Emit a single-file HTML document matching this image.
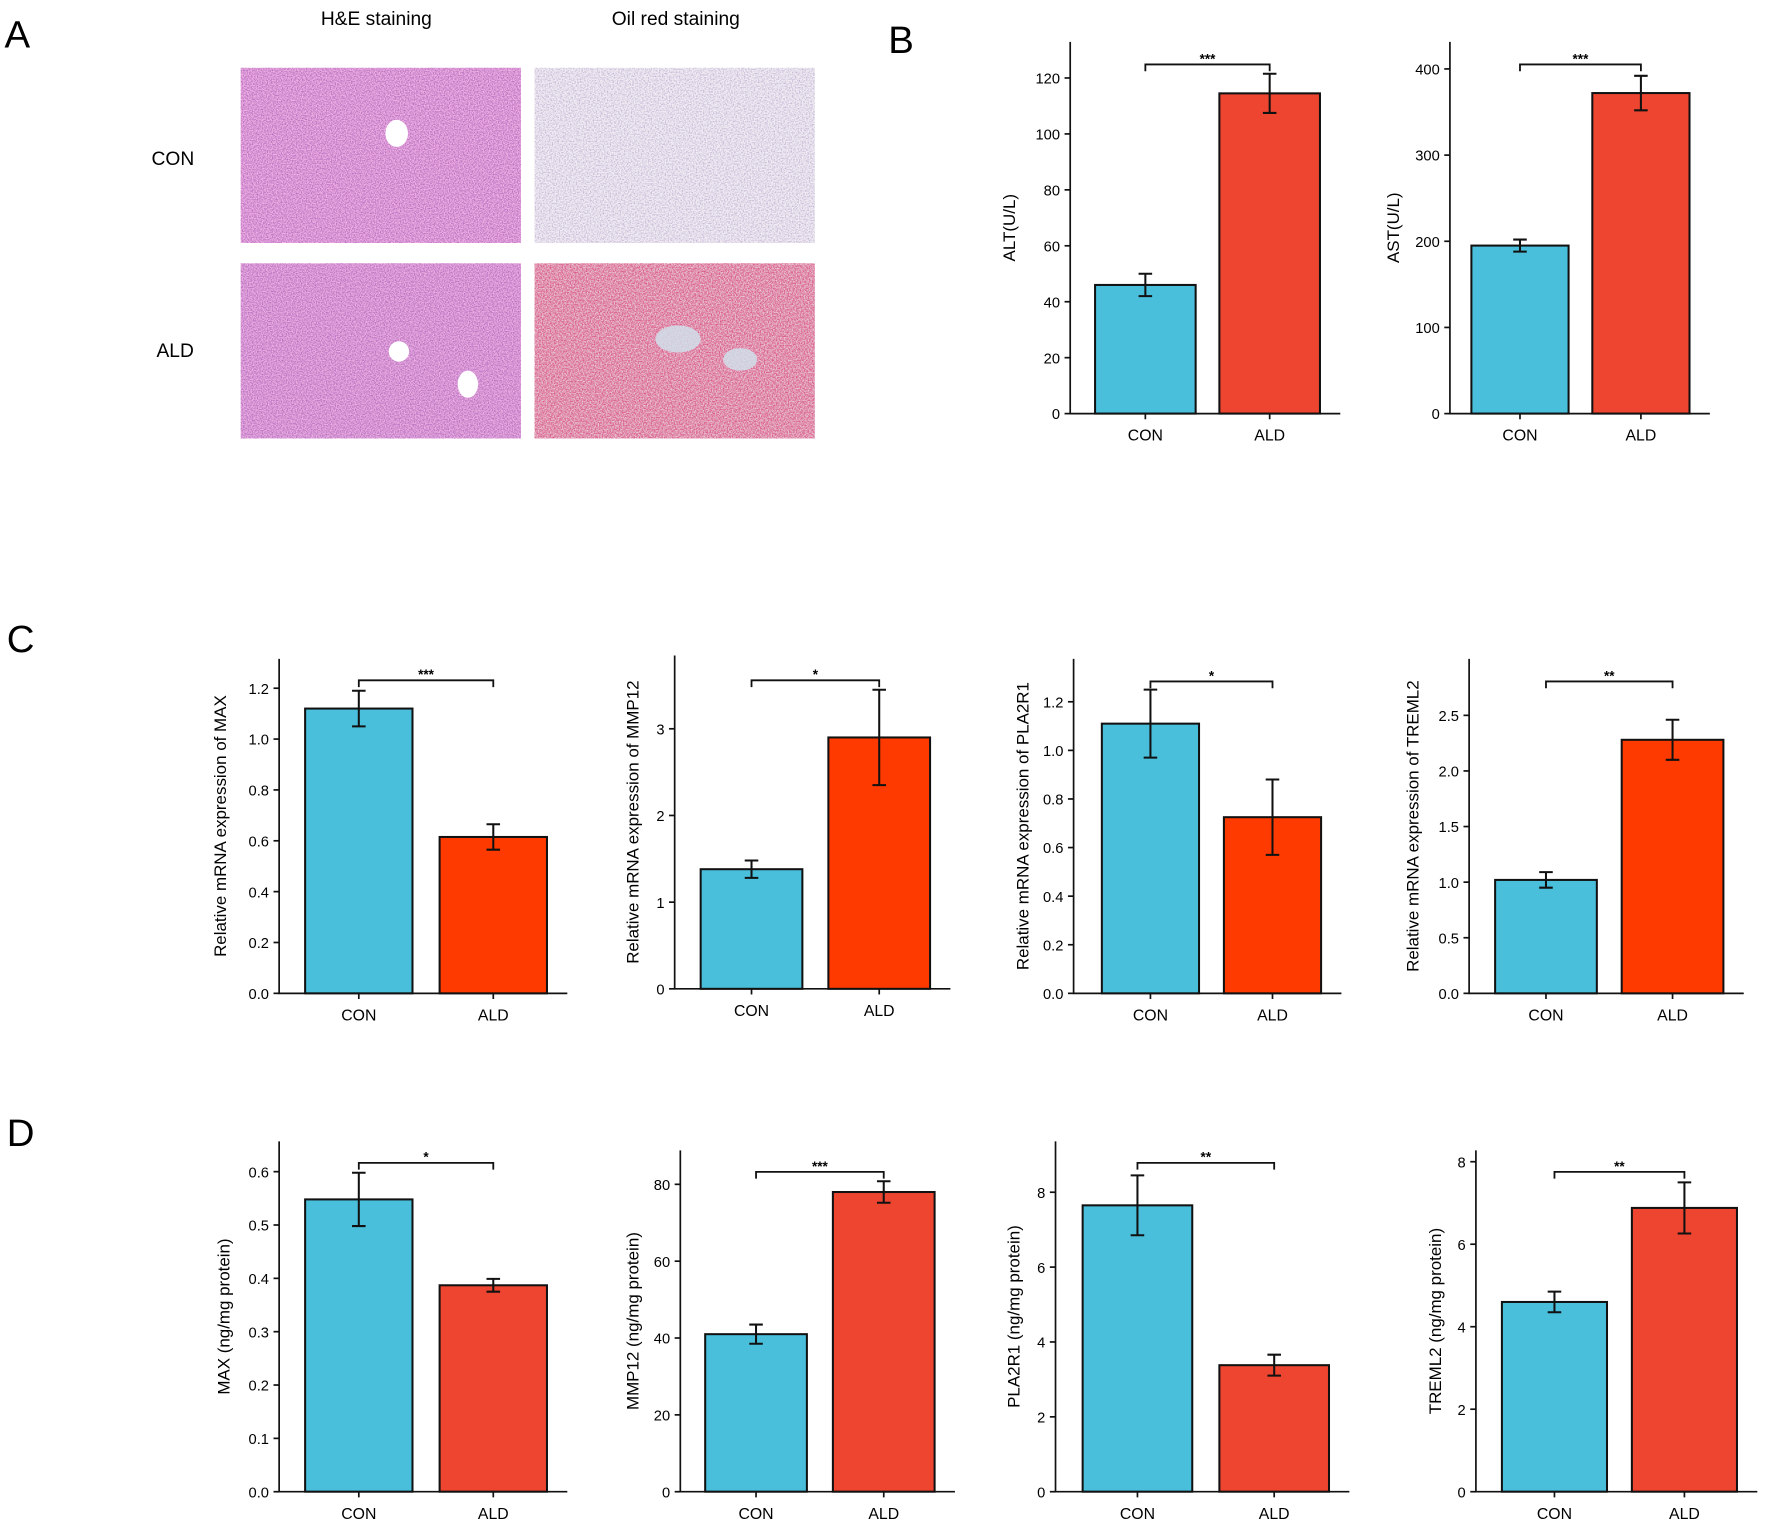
<!DOCTYPE html>
<html><head><meta charset="utf-8"><style>
html,body{margin:0;padding:0;background:#fff}
svg{display:block;font-family:"Liberation Sans",Arial,sans-serif}
</style></head><body>
<svg id="fig" width="1772" height="1529" viewBox="0 0 1568 1353" preserveAspectRatio="none" xmlns="http://www.w3.org/2000/svg">
<defs>
<filter id="noiseHE" x="0" y="0" width="100%" height="100%"><feTurbulence type="fractalNoise" baseFrequency="0.9" numOctaves="2" seed="3"/><feColorMatrix type="matrix" values="0 0 0 0 0.45  0 0 0 0 0.15  0 0 0 0 0.5  0 0 0 -2.2 1.5"/><feComposite in2="SourceGraphic" operator="in"/></filter>
<filter id="noiseOil" x="0" y="0" width="100%" height="100%"><feTurbulence type="fractalNoise" baseFrequency="0.8" numOctaves="2" seed="7"/><feColorMatrix type="matrix" values="0 0 0 0 0.55  0 0 0 0 0.45  0 0 0 0 0.65  0 0 0 -2.5 1.5"/><feComposite in2="SourceGraphic" operator="in"/></filter>
<filter id="noiseRed" x="0" y="0" width="100%" height="100%"><feTurbulence type="fractalNoise" baseFrequency="0.85" numOctaves="2" seed="11"/><feColorMatrix type="matrix" values="0 0 0 0 0.7  0 0 0 0 0.1  0 0 0 0 0.25  0 0 0 -2.2 1.6"/><feComposite in2="SourceGraphic" operator="in"/></filter>
</defs>
<g>
<text x="4" y="42" font-size="34">A</text>
<text x="333" y="22" font-size="17" text-anchor="middle">H&amp;E staining</text>
<text x="598" y="22" font-size="17" text-anchor="middle">Oil red  staining</text>
<text x="153" y="146" font-size="17" text-anchor="middle">CON</text>
<text x="155" y="316" font-size="17" text-anchor="middle">ALD</text>
<g><rect x="213" y="60" width="248" height="155" fill="#F2B2E6"/><rect x="213" y="60" width="248" height="155" fill="#000" filter="url(#noiseHE)"/><ellipse cx="351" cy="118" rx="10" ry="12" fill="#fff"/></g>
<g><rect x="473" y="60" width="248" height="155" fill="#EFECF3"/><rect x="473" y="60" width="248" height="155" fill="#000" filter="url(#noiseOil)"/></g>
<g><rect x="213" y="233" width="248" height="155" fill="#EDB0E4"/><rect x="213" y="233" width="248" height="155" fill="#000" filter="url(#noiseHE)"/><ellipse cx="353" cy="311" rx="9" ry="9" fill="#fff"/><ellipse cx="414" cy="340" rx="9" ry="12" fill="#fff"/></g>
<g><rect x="473" y="233" width="248" height="155" fill="#E8CAD4"/><rect x="473" y="233" width="248" height="155" fill="#000" filter="url(#noiseRed)"/><ellipse cx="600" cy="300" rx="20" ry="12" fill="#CFE3EE" opacity="0.8"/><ellipse cx="655" cy="318" rx="15" ry="10" fill="#CFE3EE" opacity="0.8"/></g>
</g>
<text x="786" y="47" font-size="34">B</text>
<text x="6" y="577" font-size="34">C</text>
<text x="6" y="1014" font-size="34">D</text>
<g id="charts"></g>
</svg>
<script>
const categories = ["CON", "ALD"];
const chartNames = ["alt","ast","c-max","c-mmp12","c-pla2r1","c-treml2","d-max","d-mmp12","d-pla2r1","d-treml2"];
const yTitles = ["ALT(U/L)","AST(U/L)","Relative mRNA expression of MAX","Relative mRNA expression of MMP12","Relative mRNA expression of PLA2R1","Relative mRNA expression of TREML2","MAX (ng/mg protein)","MMP12 (ng/mg protein)","PLA2R1 (ng/mg protein)","TREML2 (ng/mg protein)"];
const meanValues = [[46,114.5],[195,372],[1.12,0.615],[1.38,2.9],[1.11,0.725],[1.02,2.28],[0.548,0.387],[41,78],[7.65,3.38],[4.6,6.88]];
const errValues = [[4,7],[7,20],[0.07,0.05],[0.1,0.55],[0.14,0.155],[0.07,0.18],[0.05,0.012],[2.5,2.8],[0.8,0.28],[0.25,0.62]];
const sigLabels = ["***","***","***","*","*","**","*","***","**","**"];
const tickLabels = [
 ["0","20","40","60","80","100","120"],
 ["0","100","200","300","400"],
 ["0.0","0.2","0.4","0.6","0.8","1.0","1.2"],
 ["0","1","2","3"],
 ["0.0","0.2","0.4","0.6","0.8","1.0","1.2"],
 ["0.0","0.5","1.0","1.5","2.0","2.5"],
 ["0.0","0.1","0.2","0.3","0.4","0.5","0.6"],
 ["0","20","40","60","80"],
 ["0","2","4","6","8"],
 ["0","2","4","6","8"]];
const layout = [
 [947,37,366,247.5/100,969,1079,89,57,898,"#EE4531"],
 [1283,37,366,76.25/100,1302,1409,86,57,1238,"#EE4531"],
 [247,583,879,45/0.2,270,389,95,602,200,"#FF3A00"],
 [597,580,875,76.7,620,733,90,602,565,"#FF3A00"],
 [950,583,879,43/0.2,975,1083,86,603,910,"#FF3A00"],
 [1300,583,879,49.2/0.5,1323,1435,90,603,1255,"#FF3A00"],
 [247,1010,1320,47.2/0.1,270,389,95,1029,203,"#EE4531"],
 [602,1018,1320,68/20,624,737,90,1037,565,"#EE4531"],
 [934,1010,1320,66.25/2,958,1079,97,1029,902,"#EE4531"],
 [1306,1018,1320,73/2,1329,1444,93,1037,1275,"#EE4531"]];
const NS="http://www.w3.org/2000/svg";
const root=document.getElementById("charts");
function mk(tag,attrs,parent){const e=document.createElementNS(NS,tag);for(const k in attrs)e.setAttribute(k,attrs[k]);parent.appendChild(e);return e;}
chartNames.forEach((name,i)=>{
 const [ax,top,bot,ppu,b1,b2,bw,by,ylx,red]=layout[i];
 const y=v=>bot-v*ppu;
 const g=mk("g",{},root);
 
 
 const bx=[b1,b2], cols=["#49BFDB",red];
 categories.forEach((c,j)=>{
  const v=meanValues[i][j], e=errValues[i][j], cx=bx[j]+bw/2;
  const r=mk("rect",{x:bx[j],y:y(v),width:bw,height:bot-y(v),fill:cols[j],stroke:"#111","stroke-width":1.8},g);
  
  
  const eb=mk("path",{d:`M${cx},${y(v+e)}V${y(v-e)}M${cx-6},${y(v+e)}H${cx+6}M${cx-6},${y(v-e)}H${cx+6}`,stroke:"#111","stroke-width":1.8,fill:"none"},g);
  
  
  const t=mk("text",{x:cx,y:bot+24,"font-size":14,"text-anchor":"middle"},g);t.textContent=c;
  
  
  mk("line",{x1:cx,x2:cx,y1:bot,y2:bot+5,stroke:"#111","stroke-width":1.5},g);
 });
 const right=b2+bw+18;
 const axl=mk("path",{d:`M${ax},${top}V${bot}H${right}`,stroke:"#111","stroke-width":1.5,fill:"none"},g);
 
 
 tickLabels[i].forEach(lbl=>{
  const yy=y(parseFloat(lbl));
  mk("line",{x1:ax-5,x2:ax,y1:yy,y2:yy,stroke:"#111","stroke-width":1.5},g);
  const t=mk("text",{x:ax-9,y:yy+5,"font-size":13,"text-anchor":"end"},g);t.textContent=lbl;
  
  
 });
 const cy=(top+bot)/2;
 const yt=mk("text",{x:ylx,y:cy,"font-size":15,"text-anchor":"middle",transform:`rotate(-90 ${ylx} ${cy})`},g);
 yt.textContent=yTitles[i];
 
 
 const c1=b1+bw/2,c2=b2+bw/2;
 const br=mk("path",{d:`M${c1},${by+6}V${by}H${c2}V${by+6}`,stroke:"#111","stroke-width":1.6,fill:"none"},g);
 
 
 const st=mk("text",{x:(c1+c2)/2,y:by-1,"font-size":12,"font-weight":"bold","text-anchor":"middle"},g);st.textContent=sigLabels[i];
 
 
});
</script>
</body></html>
